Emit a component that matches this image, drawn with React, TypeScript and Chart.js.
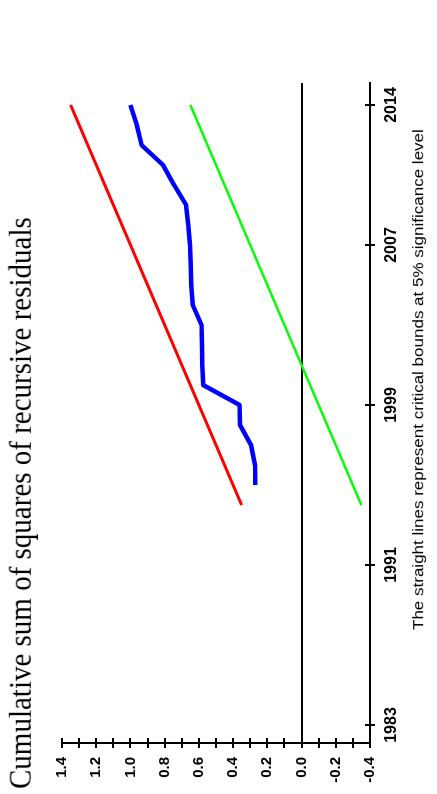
import React, { useEffect, useRef } from 'react';
import { Chart, registerables } from 'chart.js';

Chart.register(...registerables);

// ---- data ----
const years = [1995, 1996, 1997, 1998, 1999, 2000, 2001, 2002, 2003, 2004, 2005, 2006, 2007, 2008, 2009, 2010, 2011, 2012, 2013, 2014];
const cusumSq = [0.27, 0.272, 0.295, 0.36, 0.362, 0.575, 0.58, 0.582, 0.585, 0.636, 0.644, 0.648, 0.652, 0.662, 0.675, 0.745, 0.81, 0.935, 0.963, 1.0];
const boundYears = [1994, 2014];
const upperBound = [0.35, 1.35];
const lowerBound = [-0.35, 0.65];
const yearTicks = [1983, 1991, 1999, 2007, 2014];
const valueMin = -0.4;
const valueMax = 1.4;
const valueStep = 0.1;
const yearMin = 1982.1;
const yearMax = 2015.1;
const titleText = 'Cumulative sum of squares of recursive residuals';
const captionText = 'The straight lines represent critical bounds at 5% significance level';

const W = 794;
const H = 437;

const fmtValue = (v: any) => {
  const r = Math.round(Number(v) * 10);
  if (r % 2 !== 0) return '';
  const val = r / 10;
  return (val === 0 ? 0 : val).toFixed(1);
};

const tickMarks = {
  id: 'tickMarks',
  afterDraw(chart: any) {
    const { ctx, scales } = chart;
    const x = scales.x;
    const y = scales.y;
    ctx.save();
    ctx.strokeStyle = '#000';
    ctx.lineWidth = 2;
    x.ticks.forEach((t: any) => {
      const px = Math.round(x.getPixelForValue(t.value));
      ctx.beginPath();
      ctx.moveTo(px, x.top - 5);
      ctx.lineTo(px, x.top + 5);
      ctx.stroke();
    });
    y.ticks.forEach((t: any) => {
      const py = Math.round(y.getPixelForValue(t.value));
      ctx.beginPath();
      ctx.moveTo(y.right - 5, py);
      ctx.lineTo(y.right + 5, py);
      ctx.stroke();
    });
    ctx.restore();
  },
};

export default function App() {
  const canvasRef = useRef<HTMLCanvasElement | null>(null);

  useEffect(() => {
    if (!canvasRef.current) return;
    const chart = new Chart(canvasRef.current, {
      type: 'line',
      data: {
        datasets: [
          {
            label: 'Upper bound',
            data: boundYears.map((yr, i) => ({ x: yr, y: upperBound[i] })),
            borderColor: '#ff0000',
            borderWidth: 3,
            pointRadius: 0,
          },
          {
            label: 'Lower bound',
            data: boundYears.map((yr, i) => ({ x: yr, y: lowerBound[i] })),
            borderColor: '#00ff00',
            borderWidth: 2.5,
            pointRadius: 0,
          },
          {
            label: 'CUSUM of squares',
            data: years.map((yr, i) => ({ x: yr, y: cusumSq[i] })),
            borderColor: '#0000ff',
            borderWidth: 4.5,
            pointRadius: 0,
            borderJoinStyle: 'round',
          },
        ],
      },
      options: {
        responsive: false,
        animation: false,
        events: [],
        layout: { padding: { top: 62, right: 83, left: 0, bottom: 0 } },
        plugins: {
          legend: { display: false },
          tooltip: { enabled: false },
          title: { display: false },
        },
        elements: { line: { tension: 0 } },
        scales: {
          x: {
            type: 'linear',
            min: yearMin,
            max: yearMax,
            afterBuildTicks: (s: any) => {
              s.ticks = yearTicks.map((v) => ({ value: v }));
            },
            afterFit: (s: any) => {
              s.height = H - 370;
            },
            ticks: {
              autoSkip: false,
              maxRotation: 0,
              minRotation: 0,
              padding: 12,
              color: '#000',
              font: { family: "'Liberation Sans', Arial, sans-serif", size: 16, weight: 'bold' },
              callback: (v: any) => String(v),
            },
            grid: { display: false, drawTicks: false },
            border: { display: true, color: '#000', width: 2 },
          },
          y: {
            type: 'linear',
            min: valueMin,
            max: valueMax,
            afterFit: (s: any) => {
              s.width = 51;
            },
            ticks: {
              stepSize: valueStep,
              autoSkip: false,
              padding: 14,
              color: '#000',
              font: { family: "'Liberation Sans', Arial, sans-serif", size: 15, weight: 'bold' },
              callback: fmtValue,
            },
            grid: {
              display: true,
              drawTicks: false,
              color: (ctx: any) => (ctx.tick && Math.abs(ctx.tick.value) < 1e-9 ? '#000' : 'rgba(0,0,0,0)'),
              lineWidth: 2,
            },
            border: { display: true, color: '#000', width: 2 },
          },
        },
      } as any,
      plugins: [tickMarks],
    });
    return () => chart.destroy();
  }, []);

  return (
    <div style={{ position: 'fixed', left: 0, top: 0, width: H, height: W, overflow: 'hidden', background: '#fff' }}>
      <div
        style={{
          position: 'absolute',
          left: 0,
          top: 0,
          width: W,
          height: H,
          transformOrigin: '0 0',
          transform: `translate(0px, ${W}px) rotate(-90deg)`,
        }}
      >
        <canvas ref={canvasRef} width={W} height={H} style={{ position: 'absolute', left: 0, top: 0, width: W, height: H }} />
        <div
          style={{
            position: 'absolute',
            left: 5,
            top: 4,
            fontFamily: "'Liberation Serif', 'Times New Roman', serif",
            fontSize: 29,
            lineHeight: '29px',
            whiteSpace: 'nowrap',
            color: '#000',
            transformOrigin: '0 0',
            transform: 'scaleY(1.1)',
          }}
        >
          {titleText}
        </div>
        <div
          style={{
            position: 'absolute',
            left: 164,
            top: 411,
            fontFamily: "'Liberation Sans', Arial, sans-serif",
            fontSize: 17,
            lineHeight: '17px',
            whiteSpace: 'nowrap',
            color: '#000',
            transformOrigin: '0 0',
            transform: 'scaleY(0.86)',
          }}
        >
          {captionText}
        </div>
      </div>
    </div>
  );
}
